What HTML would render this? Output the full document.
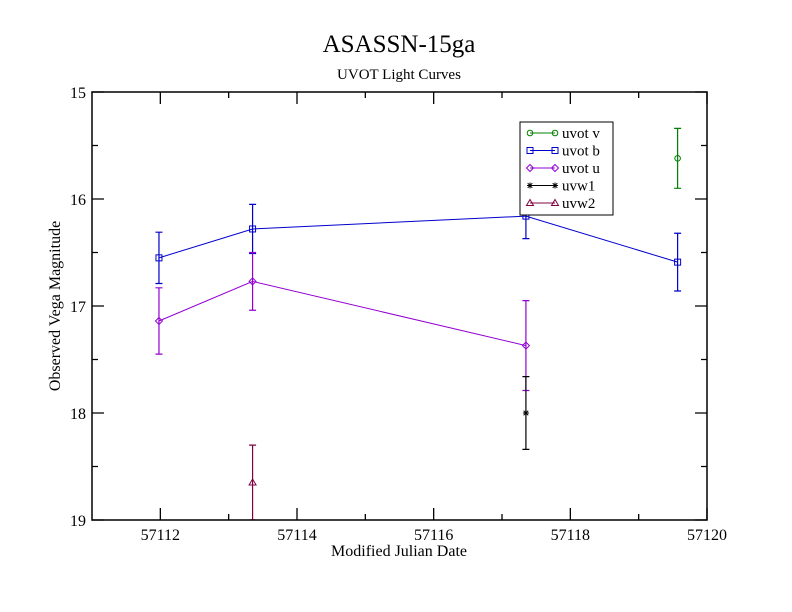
<!DOCTYPE html>
<html><head><meta charset="utf-8"><style>
html,body{margin:0;padding:0;background:#fff;width:792px;height:612px;overflow:hidden}
text{font-family:"Liberation Serif",serif}
</style></head><body>
<svg id="chart" width="792" height="612" xmlns="http://www.w3.org/2000/svg">
<text x="399" y="52" font-size="25" text-anchor="middle">ASASSN-15ga</text>
<text x="399" y="79" font-size="15" text-anchor="middle">UVOT Light Curves</text>
<text x="399" y="556" font-size="16" text-anchor="middle">Modified Julian Date</text>
<text transform="translate(60,306) rotate(-90)" font-size="16" text-anchor="middle">Observed Vega Magnitude</text>
<defs><clipPath id="pc"><rect x="92" y="92" width="615" height="428"/></clipPath></defs>
<g id="axes"></g>
<g id="marks" clip-path="url(#pc)"></g>
<rect x="92" y="92" width="615" height="428" fill="none" stroke="#000" stroke-width="1.5"/>
<g>
<rect x="520" y="122" width="93" height="93" fill="#fff" stroke="#000" stroke-width="1"/>
<g id="legend-items"></g>
</g>
</svg>
<script>
const xTicks=[57112,57114,57116,57118,57120];
const yTicks=[15,16,17,18,19];
const seriesNames=["uvot v","uvot b","uvot u","uvw1","uvw2"];
const seriesColors=["#008000","#0000cc","#9400d3","#000000","#800040"];
const vX=[57119.57]; const vY=[15.62]; const vE=[0.28];
const bX=[57111.98,57113.35,57117.35,57119.57]; const bY=[16.55,16.28,16.16,16.59]; const bE=[0.24,0.23,0.21,0.27];
const uX=[57111.98,57113.35,57117.35]; const uY=[17.14,16.77,17.37]; const uE=[0.31,0.27,0.42];
const w1X=[57117.35]; const w1Y=[18.0]; const w1E=[0.34];
const w2X=[57113.35]; const w2Y=[18.65]; const w2E=[0.35];
const NS="http://www.w3.org/2000/svg";
function sx(v){return 92+(v-57111)*615/9;}
function sy(v){return 92+(v-15)*107;}
function mk(tag,attrs,parent){const e=document.createElementNS(NS,tag);for(const k in attrs)e.setAttribute(k,attrs[k]);parent.appendChild(e);return e;}
const axes=document.getElementById('axes');
xTicks.forEach(t=>{
  const x=sx(t);
  const l=mk('path',{d:`M${x},520v-12M${x},92v12`,stroke:'#000','stroke-width':1.3},axes);
  
  
  if(t<57120){const m=mk('path',{d:`M${sx(t+1)},520v-6M${sx(t+1)},92v6`,stroke:'#000','stroke-width':1.3},axes);
  
  }
  const tx=mk('text',{x:x,y:540,'font-size':16,'text-anchor':'middle'},axes);tx.textContent=t;
  
  
});
yTicks.forEach(t=>{
  const y=sy(t);
  const l=mk('path',{d:`M92,${y}h12M707,${y}h-12`,stroke:'#000','stroke-width':1.3},axes);
  
  
  if(t<19){const m=mk('path',{d:`M92,${sy(t+0.5)}h6M707,${sy(t+0.5)}h-6`,stroke:'#000','stroke-width':1.3},axes);
  
  }
  const tx=mk('text',{x:86,y:y+6,'font-size':16,'text-anchor':'end'},axes);tx.textContent=t;
  
  
});
function marker(g,shape,x,y,c){
  if(shape==='circle')mk('circle',{cx:x,cy:y,r:2.8,fill:'none',stroke:c},g);
  else if(shape==='square')mk('rect',{x:x-3,y:y-3,width:6,height:6,fill:'none',stroke:c},g);
  else if(shape==='diamond')mk('path',{d:`M${x},${y-3.5}l3.5,3.5l-3.5,3.5l-3.5,-3.5z`,fill:'none',stroke:c},g);
  else if(shape==='star')mk('path',{d:`M${x-3},${y}h6M${x},${y-3}v6M${x-2.3},${y-2.3}l4.6,4.6M${x+2.3},${y-2.3}l-4.6,4.6`,stroke:c},g);
  else mk('path',{d:`M${x},${y-3.5}l3.5,6h-7z`,fill:'none',stroke:c},g);
}
const shapes=['circle','square','diamond','star','triangle'];
const data=[[vX,vY,vE],[bX,bY,bE],[uX,uY,uE],[w1X,w1Y,w1E],[w2X,w2Y,w2E]];
const marks=document.getElementById('marks');
data.forEach((s,i)=>{
  const c=seriesColors[i];
  const g=mk('g',{},marks);
  
  
  if(s[0].length>1){
    const pl=mk('polyline',{points:s[0].map((x,k)=>sx(x)+','+sy(s[1][k])).join(' '),fill:'none',stroke:c,'stroke-width':1},g);
    
    
  }
  s[0].forEach((x,k)=>{
    const px=sx(x),y1=sy(s[1][k]-s[2][k]),y2=sy(s[1][k]+s[2][k]);
    const eb=mk('path',{d:`M${px},${y1}V${y2}M${px-3.5},${y1}h7M${px-3.5},${y2}h7`,stroke:c,'stroke-width':1.2},g);
    
    
    marker(g,shapes[i],px,sy(s[1][k]),c);
  });
});
const li=document.getElementById('legend-items');
seriesNames.forEach((n,i)=>{
  const y=133+i*17.5,c=seriesColors[i];
  const g=mk('g',{},li);
  
  
  mk('path',{d:`M530,${y}h25`,stroke:c},g);
  marker(g,shapes[i],530,y,c);marker(g,shapes[i],555,y,c);
  const t=mk('text',{x:562,y:y+5,'font-size':15},g);t.textContent=n;
});
</script>
</body></html>
